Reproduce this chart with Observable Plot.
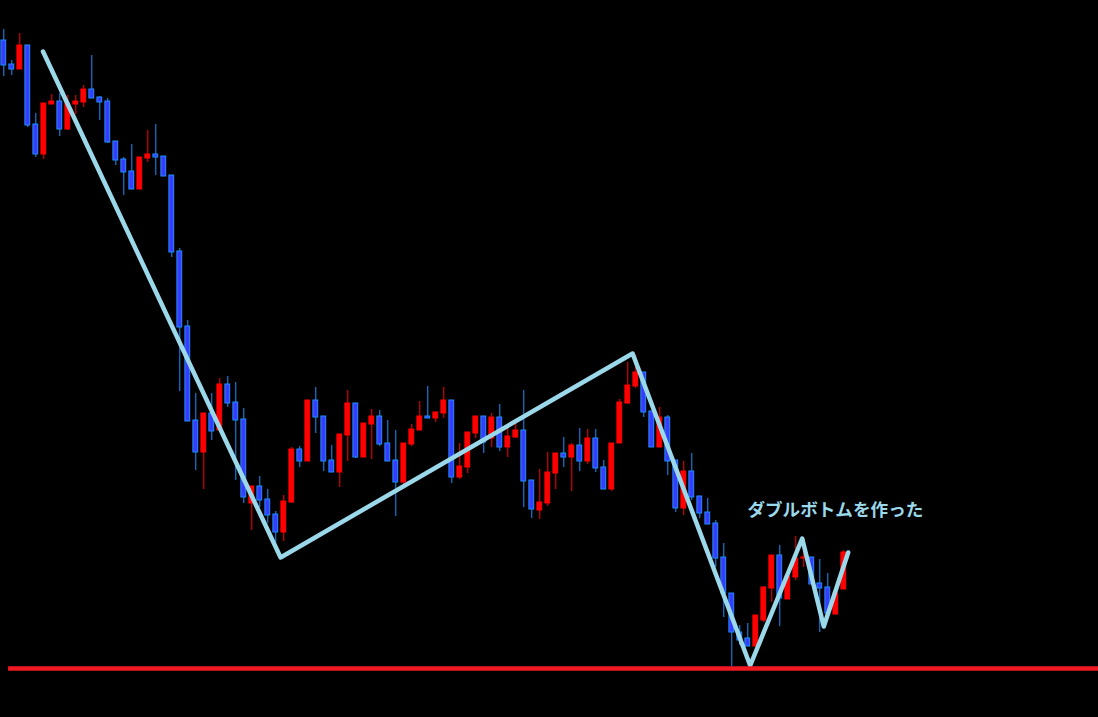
<!DOCTYPE html>
<html>
<head>
<meta charset="utf-8">
<script src="https://cdn.jsdelivr.net/npm/d3@7"></script>
<script src="https://cdn.jsdelivr.net/npm/@observablehq/plot@0.6"></script>
<style>
  html, body { margin: 0; padding: 0; background: #000; }
  #chart svg { display: block; }
</style>
</head>
<body>
<div id="chart"></div>
<script>
// OHLC prices per candle (index = bar number)
const openP = [660,636,631,655,576,546,596,599,571,596,
  598,611,603,599,559,541,529,511,542,546,
  544,525,449,374,280,248,287,270,316,298,
  281,197,214,201,186,168,198,251,239,300,
  284,240,228,265,297,243,276,284,257,240,
  218,256,270,284,282,287,300,223,233,267,
  284,262,283,253,263,270,220,190,197,227,
  247,243,255,239,262,233,211,257,297,314,
  328,289,253,283,240,192,229,204,188,177,
  143,107,68,62,54,80,112,145,101,123,
  142,143,117,113,86,111];
const highP = [671,640,667,655,587,597,606,607,605,605,
  615,645,604,602,559,543,556,543,570,576,
  544,525,452,380,307,287,307,322,324,318,
  292,214,224,211,189,205,253,254,300,313,
  284,255,266,310,297,277,291,290,280,270,
  257,276,299,314,288,313,300,257,268,284,
  284,287,296,272,280,310,220,231,248,247,
  263,257,272,271,271,240,257,301,338,345,
  328,289,293,285,240,239,247,204,202,180,
  157,107,75,77,85,114,145,155,124,164,
  162,143,141,127,107,150];
const lowP = [624,625,631,573,543,541,596,564,570,586,
  593,602,580,557,535,505,511,511,538,525,
  524,443,309,279,230,211,260,270,293,220,
  197,170,193,177,158,159,197,233,239,267,
  229,228,213,239,242,243,241,254,239,184,
  215,254,270,282,278,282,217,221,227,262,
  247,253,249,243,262,193,182,181,194,211,
  233,209,229,236,228,211,209,257,296,312,
  283,253,253,225,188,185,200,182,176,133,
  83,34,55,54,54,78,98,74,101,120,
  133,116,68,85,86,111];
const closeP = [635,631,655,575,546,597,599,571,597,599,
  611,602,598,558,540,528,511,543,546,543,
  524,448,373,279,248,287,269,316,297,280,
  203,214,200,185,168,199,251,239,300,283,
  239,228,266,297,243,277,284,256,239,218,
  257,271,284,282,288,300,223,234,268,284,
  258,283,253,264,270,219,191,198,228,247,
  243,255,239,262,232,211,257,298,315,328,
  288,253,283,239,192,229,203,187,176,142,
  107,68,60,54,85,113,145,102,124,142,
  143,116,112,87,107,148];

// Hand-drawn zigzag (bar index, price)
const zigIndex = [4.9, 34.6, 78.6, 93.3, 99.8, 102.5, 105.55];
const zigPrice = [649, 143, 347, 35, 162, 74, 148];

// Support line
const supportPrice = 32;
const supportStart = 0.6;

// Annotation
const labelText = "ダブルボトムを作った";
const labelIndex = 92.95;
const labelPrice = 190;

const candles = openP.map((o, i) => ({
  i, open: o, high: highP[i], low: lowP[i], close: closeP[i],
  up: closeP[i] >= o
}));
const zig = zigIndex.map((x, k) => ({x, y: zigPrice[k]}));

const UP = "#ff0000";
const DOWN_FILL = "#3b3bff";
const DOWN_EDGE = "#1e8fff";
const ZIG = "#9bd8ea";

const chart = Plot.plot({
  width: 1098,
  height: 717,
  marginTop: 0, marginRight: 0, marginBottom: 0, marginLeft: 0,
  style: {background: "#000"},
  x: {type: "linear", domain: [-0.4125, 136.84], axis: null},
  y: {type: "linear", domain: [-17, 700], axis: null},
  marks: [
    Plot.ruleX(candles, {
      x: "i", y1: "low", y2: "high",
      stroke: d => d.up ? UP : DOWN_EDGE, strokeWidth: 1
    }),
    Plot.rect(candles, {
      x1: d => d.i - 0.3, x2: d => d.i + 0.3,
      y1: d => Math.min(d.open, d.close), y2: d => Math.max(d.open, d.close),
      fill: d => d.up ? UP : DOWN_FILL,
      stroke: d => d.up ? UP : DOWN_EDGE, strokeWidth: 1
    }),
    Plot.line(zig, {x: "x", y: "y", stroke: ZIG, strokeWidth: 4.5, strokeLinejoin: "round", strokeLinecap: "round"}),
    Plot.ruleY([supportPrice], {x1: supportStart, x2: 136.84, stroke: "#f01822", strokeWidth: 4.5}),
    Plot.text([labelText], {
      x: labelIndex, y: labelPrice, text: d => d,
      textAnchor: "start", fill: ZIG, fontSize: 17.6, fontWeight: "bold",
      fontFamily: "Noto Sans CJK JP"
    })
  ]
});
document.getElementById("chart").appendChild(chart);
</script>
</body>
</html>
